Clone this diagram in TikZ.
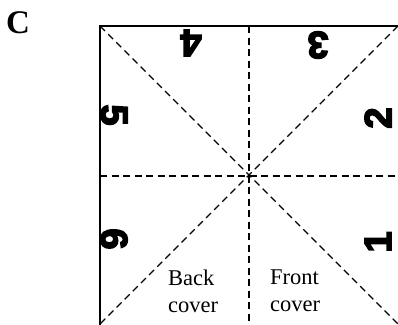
\documentclass[tikz,border=0pt]{standalone}
\usepackage{fontspec}
\setmainfont{Liberation Serif}
\newfontface\digitfont[FakeBold=4]{Liberation Sans Bold}

\begin{document}
\begin{tikzpicture}[
    x=1pt, y=-1pt,
    % --- Line styles ---
    sheetedge/.style={line width=1.4pt, line cap=rect},
    foldline/.style={line width=1.3pt, dash pattern=on 7pt off 4.5pt},
    % --- Text styles ---
    pagenum/.style={font=\fontsize{38}{38}\digitfont, inner sep=0pt},
    covertext/.style={font=\fontsize{22.5}{27}\selectfont,
      align=left, inner sep=0pt, anchor=north west},
    panel/.style={font=\fontsize{33}{33}\selectfont\bfseries, inner sep=0pt},
  ]
  \useasboundingbox (0,0) rectangle (398,324);

  % ===================== SHEET CORNERS =====================
  \coordinate (nw) at (100,26);
  \coordinate (ne) at (398,26);
  \coordinate (sw) at (100,324);
  \coordinate (se) at (398,324);
  \coordinate (nmid) at (249,26);
  \coordinate (smid) at (249,324);
  \coordinate (wmid) at (100,176);
  \coordinate (emid) at (398,176);

  % ===================== FOLD LINES =====================
  \draw[foldline] (nw) -- (se);
  \draw[foldline] (ne) -- (sw);
  \draw[foldline] (nmid) -- (smid);
  \draw[foldline] (wmid) -- (emid);

  % ===================== SHEET EDGES =====================
  \draw[sheetedge] (sw) -- (nw) -- (ne);

  % ===================== PAGE NUMBERS =====================
  \node[pagenum, rotate=180] (p4) at (191,43)  {4};
  \node[pagenum, rotate=180] (p3) at (318,45)  {3};
  \node[pagenum, rotate=-90] (p5) at (114,115) {5};
  \node[pagenum, rotate=90]  (p2) at (378,118) {2};
  \node[pagenum, rotate=-90] (p6) at (114,239) {6};
  \node[pagenum, rotate=90]  (p1) at (378,242) {1};

  % ===================== LABELS =====================
  \node[panel] (label) at (18,22.5) {C};
  \node[covertext] (back)  at (168,269.5) {Back\\cover};
  \node[covertext] (front) at (270,269.5) {Front\\cover};

\end{tikzpicture}
\end{document}
